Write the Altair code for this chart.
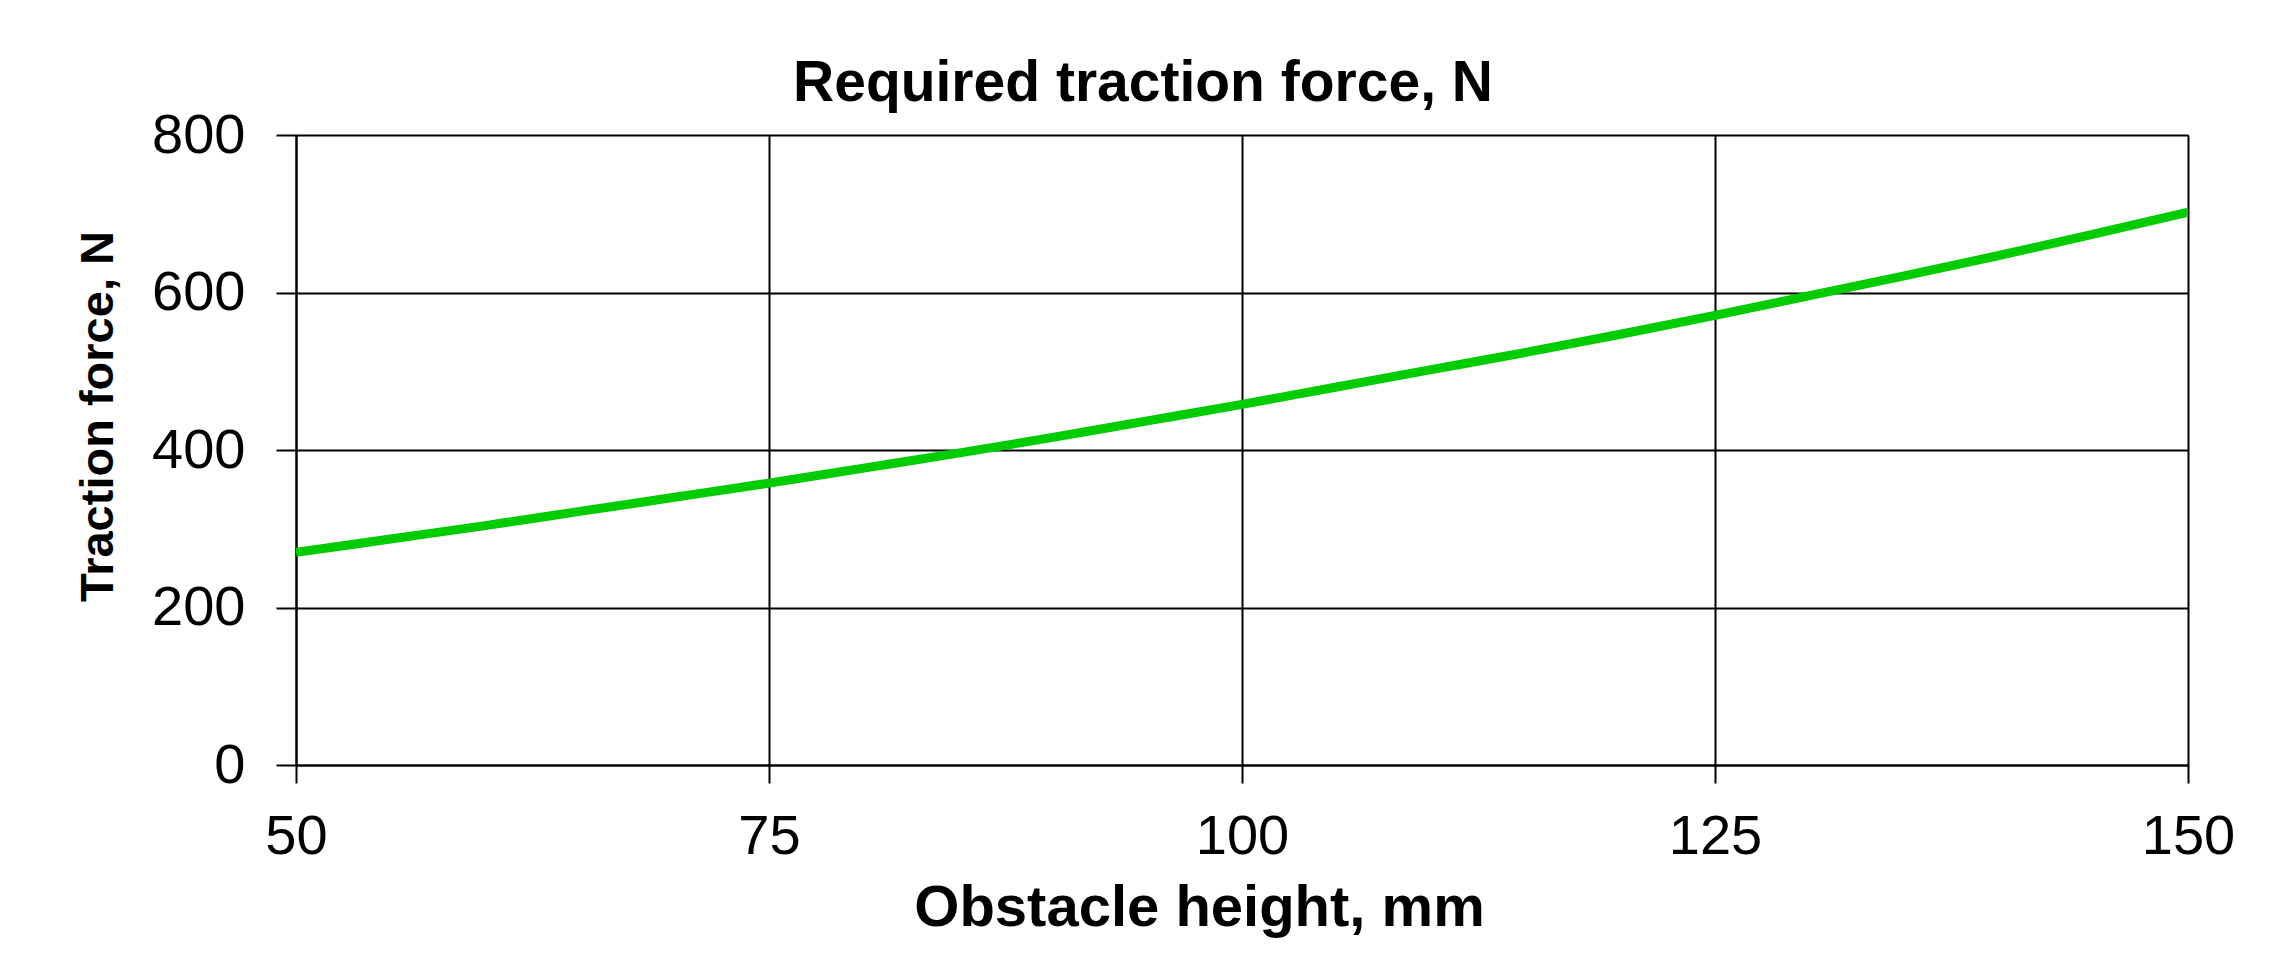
import altair as alt
import pandas as pd

# Obstacle height (mm) and required traction force (N)
height_mm = [50, 55, 60, 65, 70, 75, 80, 85, 90, 95, 100,
             105, 110, 115, 120, 125, 130, 135, 140, 145, 150]
force_n = [270, 287, 304, 322, 340, 358, 377, 396, 416, 437, 458,
           480, 502, 524, 547, 571, 596, 621, 647, 674, 702]

x_ticks = [50, 75, 100, 125, 150]
y_ticks = [0, 200, 400, 600, 800]

df = pd.DataFrame({"h": height_mm, "f": force_n})

FONT = "Liberation Sans, Arial, Helvetica, sans-serif"

line = alt.Chart(df).mark_line(
    color="#00CC00", strokeWidth=9, interpolate="monotone", clip=True
).encode(
    x=alt.X("h:Q",
            scale=alt.Scale(domain=[50, 150], nice=False, zero=False),
            axis=alt.Axis(values=x_ticks, title="Obstacle height, mm",
                          labelFontSize=56, labelFont=FONT, labelColor="black",
                          tickSize=18, tickColor="black", tickWidth=2,
                          labelPadding=26,
                          domainColor="black", domainWidth=2,
                          gridColor="black", gridWidth=2, gridOpacity=1,
                          titleFontSize=58, titleFont=FONT, titleFontWeight="bold",
                          titleColor="black",
                          titleX=903, titleY=160, titleBaseline="alphabetic",
                          titleAlign="center", labelFlush=False)),
    y=alt.Y("f:Q",
            scale=alt.Scale(domain=[0, 800], nice=False),
            axis=alt.Axis(values=y_ticks, title="Traction force, N",
                          labelFontSize=56, labelFont=FONT, labelColor="black",
                          tickSize=20, tickColor="black", tickWidth=2,
                          labelPadding=31,
                          domainColor="black", domainWidth=2,
                          gridColor="black", gridWidth=2, gridOpacity=1,
                          titleFontSize=47, titleFont=FONT, titleFontWeight="bold",
                          titleColor="black",
                          titleX=-184, titleY=281, titleBaseline="alphabetic",
                          titleAlign="center", titleAngle=270, labelFlush=False)),
)

chart = line.properties(
    width=1892,
    height=630,
    autosize=alt.AutoSizeParams(type="none"),
    padding={"left": 288, "top": 127, "right": 60, "bottom": 180},
    title=alt.TitleParams(
        "Required traction force, N",
        fontSize=57, font=FONT, fontWeight="bold", color="black",
        anchor="middle", frame="group", dx=-99, dy=87, offset=36,
        baseline="alphabetic",
    ),
).configure_view(
    stroke="#888888", strokeWidth=3
).configure(background="white")

chart.save("out.html", embed_options={"renderer": "svg", "actions": False})
